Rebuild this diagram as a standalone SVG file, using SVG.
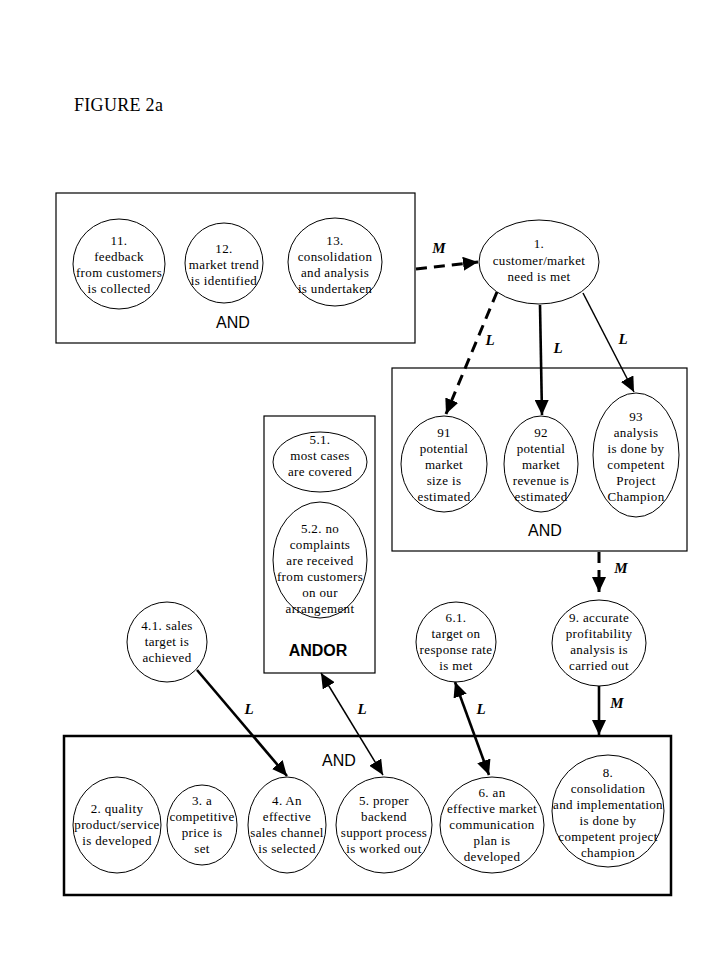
<svg xmlns="http://www.w3.org/2000/svg" width="719" height="959" viewBox="0 0 719 959">
<defs>
<style>
.bg{fill:#fff}
.box{fill:none;stroke:#000;stroke-width:1.2}
.boxb{fill:none;stroke:#000;stroke-width:2.5}
.nd{fill:#fff;stroke:#000;stroke-width:1}
.t{font-family:"Liberation Serif","Times New Roman",serif;font-size:13px;letter-spacing:0.35px;fill:#000;text-anchor:middle}
.op{font-family:"Liberation Sans",Arial,sans-serif;font-size:16px;fill:#000;text-anchor:middle}
.lab{font-family:"Liberation Serif","Times New Roman",serif;font-size:15px;font-style:italic;font-weight:bold;fill:#000;text-anchor:middle}
.title{font-family:"Liberation Serif","Times New Roman",serif;font-size:18px;fill:#000}
.c{fill:none;stroke:#000}
.thick{stroke-width:2.6}
.thin{stroke-width:1.5}
.dash{stroke-width:3;stroke-dasharray:11,7}
</style>
<marker id="ah" markerUnits="userSpaceOnUse" markerWidth="16" markerHeight="14" refX="15" refY="7" orient="auto-start-reverse" viewBox="0 0 16 14">
<path d="M0,0 L15,7 L0,14 z" fill="#000"/>
</marker>
</defs>
<rect class="bg" x="0" y="0" width="719" height="959"/>
<text class="title" x="74" y="111" letter-spacing="0.3">FIGURE 2a</text>

<g id="group-top">
<rect class="box" x="56" y="193" width="359" height="150"/>
<text class="op" x="233" y="328">AND</text>
</g>
<g id="n11">
<ellipse class="nd" cx="119" cy="264" rx="46" ry="45"/>
<text class="t" x="119" y="245">11.</text>
<text class="t" x="119" y="261">feedback</text>
<text class="t" x="119" y="277">from customers</text>
<text class="t" x="119" y="293">is collected</text>
</g>
<g id="n12">
<ellipse class="nd" cx="224" cy="263" rx="39" ry="40"/>
<text class="t" x="224" y="253">12.</text>
<text class="t" x="224" y="269">market trend</text>
<text class="t" x="224" y="285">is identified</text>
</g>
<g id="n13">
<ellipse class="nd" cx="335" cy="262" rx="47" ry="44"/>
<text class="t" x="335" y="245">13.</text>
<text class="t" x="335" y="261">consolidation</text>
<text class="t" x="335" y="277">and analysis</text>
<text class="t" x="335" y="293">is undertaken</text>
</g>

<g id="n1">
<ellipse class="nd" cx="539" cy="262" rx="60" ry="42"/>
<text class="t" x="539" y="248">1.</text>
<text class="t" x="539" y="265">customer/market</text>
<text class="t" x="539" y="281">need is met</text>
</g>

<g id="group-9x">
<rect class="box" x="392" y="368" width="295" height="183"/>
<text class="op" x="545" y="536">AND</text>
</g>
<g id="n91">
<ellipse class="nd" cx="444" cy="464" rx="43" ry="48"/>
<text class="t" x="444" y="437">91</text>
<text class="t" x="444" y="453">potential</text>
<text class="t" x="444" y="469">market</text>
<text class="t" x="444" y="485">size is</text>
<text class="t" x="444" y="501">estimated</text>
</g>
<g id="n92">
<ellipse class="nd" cx="541" cy="464" rx="37" ry="48"/>
<text class="t" x="541" y="437">92</text>
<text class="t" x="541" y="453">potential</text>
<text class="t" x="541" y="469">market</text>
<text class="t" x="541" y="485">revenue is</text>
<text class="t" x="541" y="501">estimated</text>
</g>
<g id="n93">
<ellipse class="nd" cx="636" cy="455" rx="43" ry="62"/>
<text class="t" x="636" y="421">93</text>
<text class="t" x="636" y="437">analysis</text>
<text class="t" x="636" y="453">is done by</text>
<text class="t" x="636" y="469">competent</text>
<text class="t" x="636" y="485">Project</text>
<text class="t" x="636" y="501">Champion</text>
</g>

<g id="group-andor">
<rect class="box" x="264" y="416" width="111" height="257"/>
<text class="op" x="318" y="656" font-weight="bold">ANDOR</text>
</g>
<g id="n51">
<ellipse class="nd" cx="320" cy="462" rx="47" ry="30"/>
<text class="t" x="320" y="444">5.1.</text>
<text class="t" x="320" y="460">most cases</text>
<text class="t" x="320" y="476">are covered</text>
</g>
<g id="n52">
<ellipse class="nd" cx="320" cy="560" rx="47" ry="58"/>
<text class="t" x="320" y="533">5.2. no</text>
<text class="t" x="320" y="549">complaints</text>
<text class="t" x="320" y="565">are received</text>
<text class="t" x="320" y="581">from customers</text>
<text class="t" x="320" y="597">on our</text>
<text class="t" x="320" y="613">arrangement</text>
</g>

<g id="n41">
<ellipse class="nd" cx="167" cy="642" rx="40" ry="40"/>
<text class="t" x="167" y="630">4.1. sales</text>
<text class="t" x="167" y="646">target is</text>
<text class="t" x="167" y="662">achieved</text>
</g>
<g id="n61">
<ellipse class="nd" cx="456" cy="642" rx="40" ry="40"/>
<text class="t" x="456" y="622">6.1.</text>
<text class="t" x="456" y="638">target on</text>
<text class="t" x="456" y="654">response rate</text>
<text class="t" x="456" y="670">is met</text>
</g>
<g id="n9">
<ellipse class="nd" cx="599" cy="643" rx="47" ry="43"/>
<text class="t" x="599" y="622">9. accurate</text>
<text class="t" x="599" y="638">profitability</text>
<text class="t" x="599" y="654">analysis is</text>
<text class="t" x="599" y="670">carried out</text>
</g>

<g id="group-bottom">
<rect class="boxb" x="64" y="736" width="607" height="159"/>
<text class="op" x="339" y="766">AND</text>
</g>
<g id="n2">
<ellipse class="nd" cx="117" cy="825" rx="44" ry="48"/>
<text class="t" x="117" y="813">2. quality</text>
<text class="t" x="117" y="829">product/service</text>
<text class="t" x="117" y="845">is developed</text>
</g>
<g id="n3">
<ellipse class="nd" cx="202" cy="825" rx="35" ry="40"/>
<text class="t" x="202" y="805">3. a</text>
<text class="t" x="202" y="821">competitive</text>
<text class="t" x="202" y="837">price is</text>
<text class="t" x="202" y="853">set</text>
</g>
<g id="n4">
<ellipse class="nd" cx="287" cy="825" rx="39" ry="48"/>
<text class="t" x="287" y="805">4. An</text>
<text class="t" x="287" y="821">effective</text>
<text class="t" x="287" y="837">sales channel</text>
<text class="t" x="287" y="853">is selected</text>
</g>
<g id="n5">
<ellipse class="nd" cx="384" cy="825" rx="48" ry="48"/>
<text class="t" x="384" y="805">5. proper</text>
<text class="t" x="384" y="821">backend</text>
<text class="t" x="384" y="837">support process</text>
<text class="t" x="384" y="853">is worked out</text>
</g>
<g id="n6">
<ellipse class="nd" cx="492" cy="825" rx="52" ry="48"/>
<text class="t" x="492" y="797">6. an</text>
<text class="t" x="492" y="813">effective market</text>
<text class="t" x="492" y="829">communication</text>
<text class="t" x="492" y="845">plan is</text>
<text class="t" x="492" y="861">developed</text>
</g>
<g id="n8">
<ellipse class="nd" cx="608" cy="811" rx="56" ry="56"/>
<text class="t" x="608" y="777">8.</text>
<text class="t" x="608" y="793">consolidation</text>
<text class="t" x="608" y="809">and implementation</text>
<text class="t" x="608" y="825">is done by</text>
<text class="t" x="608" y="841">competent project</text>
<text class="t" x="608" y="857">champion</text>
</g>

<g id="connectors">
<line class="c dash" x1="416" y1="269" x2="478" y2="262" marker-end="url(#ah)"/>
<text class="lab" x="439" y="253">M</text>
<line class="c dash" x1="497" y1="292" x2="446" y2="414" marker-end="url(#ah)"/>
<text class="lab" x="490" y="345">L</text>
<line class="c thick" x1="540" y1="305" x2="542" y2="415" marker-end="url(#ah)"/>
<text class="lab" x="558" y="353">L</text>
<line class="c thin" x1="583" y1="293" x2="634" y2="392" marker-end="url(#ah)"/>
<text class="lab" x="623" y="344">L</text>
<line class="c dash" x1="599" y1="552" x2="599" y2="592" marker-end="url(#ah)"/>
<text class="lab" x="621" y="573">M</text>
<line class="c thick" x1="599" y1="686" x2="599" y2="735" marker-end="url(#ah)"/>
<text class="lab" x="617" y="708">M</text>
<line class="c thick" x1="197" y1="670" x2="287" y2="776" marker-end="url(#ah)"/>
<text class="lab" x="249" y="714">L</text>
<line class="c thin" x1="321" y1="673" x2="383" y2="775" marker-start="url(#ah)" marker-end="url(#ah)"/>
<text class="lab" x="362" y="714">L</text>
<line class="c thick" x1="455" y1="682" x2="489" y2="775" marker-start="url(#ah)" marker-end="url(#ah)"/>
<text class="lab" x="481" y="714">L</text>
</g>
</svg>
